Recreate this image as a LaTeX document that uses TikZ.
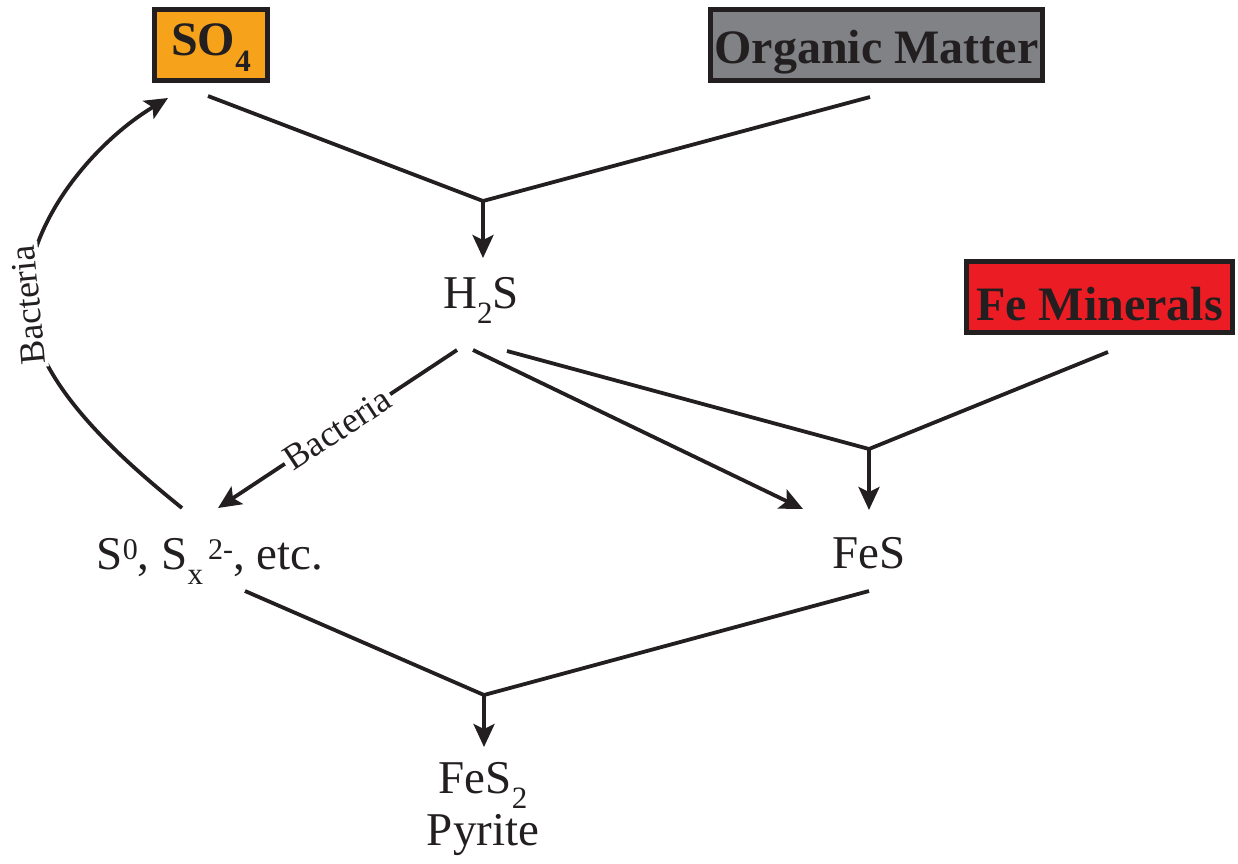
\documentclass[tikz,border=0pt]{standalone}
\usepackage{fontspec}
\setmainfont{Liberation Serif}
\usetikzlibrary{arrows.meta}
\definecolor{ink}{HTML}{231F20}
\definecolor{so4fill}{HTML}{F7A21B}
\definecolor{omfill}{HTML}{808285}
\definecolor{femfill}{HTML}{EC1C24}
\newcommand{\lowsub}[1]{\raisebox{-15pt}{\fontsize{31}{31}\selectfont #1}}
\newcommand{\hisup}[1]{\raisebox{10pt}{\fontsize{30}{30}\selectfont #1}}
\begin{document}
\begin{tikzpicture}[x=1pt,y=-1pt,
  box/.style={draw=ink, line width=5pt, inner sep=0pt, text=ink,
    font=\fontsize{48}{56}\selectfont\bfseries, align=center},
  chem/.style={inner sep=0pt, anchor=base, text=ink,
    font=\fontsize{47}{54}\selectfont},
  link/.style={draw=ink, line width=3.8pt},
  arr/.style={link, -{Stealth[length=23pt,width=21pt,inset=5pt]}},
  bact/.style={font=\fontsize{36}{40}\selectfont, text=ink, fill=white,
    inner sep=3pt, sloped}
]
\useasboundingbox (0,0) rectangle (1238,863);

% boxes
\node[box, fill=so4fill, minimum width=113pt, minimum height=71pt,
  text height=32pt, text depth=12pt] (so4) at (211,45)
  {SO\raisebox{-16pt}{\fontsize{31}{31}\selectfont\bfseries 4}};
\node[box, fill=omfill, minimum width=332pt, minimum height=71pt,
  text height=36pt, text depth=0pt] (om) at (876.5,45) {Organic Matter};
\node[box, fill=femfill, minimum width=266pt, minimum height=71pt,
  text height=46pt, text depth=0pt] (fem) at (1099.5,297) {Fe Minerals};

% chemical species
\node[chem] (h2s) at (481,308) {H\lowsub{2}S};
\node[chem] (sx) at (210,569) {S\hisup{0}, S\lowsub{x}\hisup{\,2-}, etc.};
\node[chem] (fes) at (869,568) {FeS};
\node[chem] (fes2) at (483,793) {FeS\lowsub{2}};
\node[chem] (pyrite) at (483,845) {Pyrite};

% connector end points
\coordinate (so4out) at (208,96);
\coordinate (omout) at (870,97);
\coordinate (j1) at (483,201);
\coordinate (h2sin) at (483,258);
\coordinate (h2sL) at (457,350);
\coordinate (h2sM) at (473,350);
\coordinate (h2sR) at (507,351);
\coordinate (sxin) at (218,508);
\coordinate (fesinL) at (803,509);
\coordinate (femout) at (1108,352);
\coordinate (j2) at (869,449);
\coordinate (fesin) at (869,510);
\coordinate (sxout) at (245,591);
\coordinate (sxup) at (182,508);
\coordinate (so4in) at (168,98);
\coordinate (fesout) at (869,591);
\coordinate (j3) at (484,695);
\coordinate (fes2in) at (484,747);

% SO4 + organic matter -> H2S
\draw[link] (so4out) -- (j1) -- (omout);
\draw[arr] (j1) -- (h2sin);

% H2S -> S species (bacteria)
\draw[arr] (h2sL) -- node[bact, pos=0.5] {Bacteria} (sxin);
% H2S -> FeS
\draw[arr] (h2sM) -- (fesinL);
% H2S + Fe minerals -> FeS
\draw[link] (h2sR) -- (j2) -- (femout);
\draw[arr] (j2) -- (fesin);

% S species -> SO4 (bacteria)
\draw[arr] (sxup) .. controls (110,450) and (35,380) ..
  node[bact, pos=1, allow upside down] {Bacteria} (28,305)
  .. controls (22,230) and (90,145) .. (so4in);

% S species + FeS -> pyrite
\draw[link] (sxout) -- (j3) -- (fesout);
\draw[arr] (j3) -- (fes2in);
\end{tikzpicture}
\end{document}
